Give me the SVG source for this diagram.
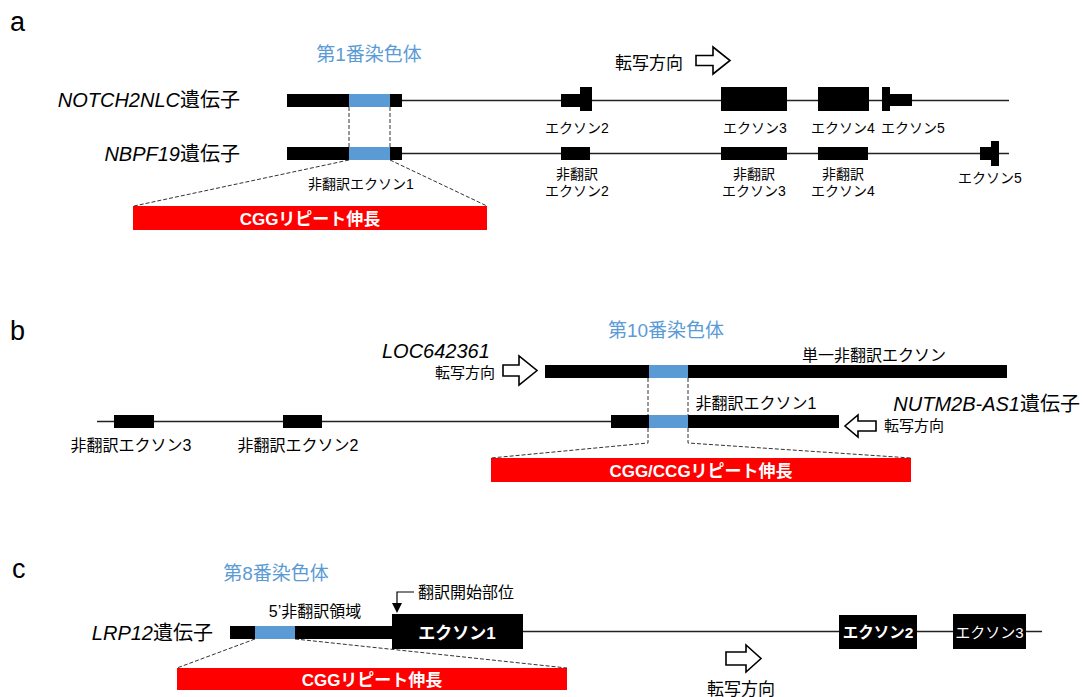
<svg xmlns="http://www.w3.org/2000/svg" width="1083" height="697" viewBox="0 0 1083 697">
<style>
text{font-family:"Liberation Sans","Noto Sans CJK JP",sans-serif;fill:#000}
.panel{font-size:27px}
.chr{fill:#5b9bd5;font-size:19px}
.gene{font-size:20px}
.it{font-style:italic}
.lbl{font-size:14px}
.lblb{font-size:16px}
.red{fill:#ff0000}
.redt{fill:#fff;font-weight:bold;font-size:17px}
.exon{fill:#000}
.blue{fill:#5b9bd5}
.line{stroke:#222;stroke-width:1.3;fill:none}
.dash{stroke:#333;stroke-width:1;stroke-dasharray:4 2;fill:none}
.arr{fill:#fff;stroke:#000;stroke-width:1.6;stroke-linejoin:miter}
.wt{fill:#fff;font-size:17px}
</style>

<!-- Panel a -->
<text class="panel" x="10" y="31">a</text>
<text class="chr" x="369" y="61" text-anchor="middle">第1番染色体</text>
<g id="a-direction">
<text x="649" y="69" text-anchor="middle" style="font-size:17px">転写方向</text>
<path class="arr" d="M696,55.5 H713 V47 L730,60.5 L713,74 V65.5 H696 Z"/>
</g>
<g id="a-notch2nlc">
<text class="gene" x="240" y="107" text-anchor="end"><tspan class="it">NOTCH2NLC</tspan>遺伝子</text>
<line class="line" x1="402" y1="100.5" x2="1009" y2="100.5"/>
<rect class="exon" x="287" y="94" width="115" height="13"/>
<rect class="blue" x="349" y="94" width="41" height="13"/>
<rect class="exon" x="561" y="94" width="20" height="13"/>
<rect class="exon" x="580" y="87" width="12" height="24"/>
<rect class="exon" x="721" y="87" width="66" height="24"/>
<rect class="exon" x="818" y="87" width="51" height="24"/>
<rect class="exon" x="882" y="87" width="8" height="24"/>
<rect class="exon" x="889" y="94" width="23" height="12"/>
<text class="lbl" x="577" y="133" text-anchor="middle">エクソン2</text>
<text class="lbl" x="755" y="133" text-anchor="middle">エクソン3</text>
<text class="lbl" x="843" y="133" text-anchor="middle">エクソン4</text>
<text class="lbl" x="913" y="133" text-anchor="middle">エクソン5</text>
</g>
<g id="a-nbpf19">
<text class="gene" x="240" y="161" text-anchor="end"><tspan class="it">NBPF19</tspan>遺伝子</text>
<line class="line" x1="402" y1="153.5" x2="1009" y2="153.5"/>
<rect class="exon" x="287" y="147" width="115" height="13"/>
<rect class="blue" x="349" y="147" width="41" height="13"/>
<rect class="exon" x="561" y="147" width="29" height="13"/>
<rect class="exon" x="721" y="147" width="66" height="13"/>
<rect class="exon" x="818" y="147" width="50" height="13"/>
<rect class="exon" x="980" y="147" width="12" height="13"/>
<rect class="exon" x="991" y="141" width="8" height="25"/>
<text class="lbl" x="361" y="189" text-anchor="middle">非翻訳エクソン1</text>
<text class="lbl" x="577" y="179" text-anchor="middle">非翻訳</text>
<text class="lbl" x="577" y="196" text-anchor="middle">エクソン2</text>
<text class="lbl" x="754" y="179" text-anchor="middle">非翻訳</text>
<text class="lbl" x="754" y="196" text-anchor="middle">エクソン3</text>
<text class="lbl" x="843" y="179" text-anchor="middle">非翻訳</text>
<text class="lbl" x="843" y="196" text-anchor="middle">エクソン4</text>
<text class="lbl" x="990" y="183" text-anchor="middle">エクソン5</text>
</g>
<g id="a-repeat">
<rect class="red" x="133" y="206" width="354" height="24"/>
<text class="redt" x="310" y="225" text-anchor="middle">CGGリピート伸長</text>
</g>

<!-- Panel b -->
<text class="panel" x="10" y="340">b</text>
<text class="chr" x="666" y="337" text-anchor="middle">第10番染色体</text>
<g id="b-loc642361">
<text class="gene it" x="382" y="358">LOC642361</text>
<text x="465" y="378" text-anchor="middle" style="font-size:15px">転写方向</text>
<path class="arr" d="M503,365 H519 V356 L537,370.5 L519,385 V376 H503 Z"/>
<rect class="exon" x="545" y="365" width="462" height="13"/>
<rect class="blue" x="649" y="365" width="39" height="13"/>
<text class="lblb" x="874" y="361" text-anchor="middle">単一非翻訳エクソン</text>
</g>
<g id="b-nutm2b">
<line class="line" x1="97" y1="421.5" x2="611" y2="421.5"/>
<rect class="exon" x="114" y="415" width="40" height="13"/>
<rect class="exon" x="283" y="415" width="39" height="13"/>
<rect class="exon" x="611" y="415" width="228" height="13"/>
<rect class="blue" x="649" y="415" width="39" height="13"/>
<text class="lblb" x="131" y="451" text-anchor="middle">非翻訳エクソン3</text>
<text class="lblb" x="298" y="451" text-anchor="middle">非翻訳エクソン2</text>
<text class="lblb" x="756" y="409" text-anchor="middle">非翻訳エクソン1</text>
<text class="gene" x="1080" y="411" text-anchor="end"><tspan class="it">NUTM2B-AS1</tspan>遺伝子</text>
<path class="arr" d="M876,421 H858 V415 L845,426 L858,437 V431 H876 Z"/>
<text x="914" y="431" text-anchor="middle" style="font-size:15px">転写方向</text>
</g>
<g id="b-repeat">
<rect class="red" x="491" y="458" width="420" height="24"/>
<text class="redt" x="701" y="477" text-anchor="middle">CGG/CCGリピート伸長</text>
</g>

<!-- Panel c -->
<text class="panel" x="12" y="578">c</text>
<text class="chr" x="276" y="580" text-anchor="middle">第8番染色体</text>
<g id="c-lrp12">
<text class="gene" x="213" y="640" text-anchor="end"><tspan class="it">LRP12</tspan>遺伝子</text>
<line class="line" x1="523" y1="631.5" x2="1042" y2="631.5"/>
<rect class="exon" x="230" y="626" width="162" height="13"/>
<rect class="blue" x="255" y="626" width="40" height="13"/>
<text class="lblb" x="315" y="617" text-anchor="middle">5’非翻訳領域</text>
<rect class="exon" x="392" y="614" width="131" height="35"/>
<text class="wt" x="457" y="639" text-anchor="middle" font-weight="bold">エクソン1</text>
<rect class="exon" x="839" y="615" width="78" height="34"/>
<text class="wt" x="878" y="638" text-anchor="middle" font-weight="bold" style="font-size:15.5px">エクソン2</text>
<rect class="exon" x="953" y="614" width="73" height="35"/>
<text class="wt" x="989.5" y="638" text-anchor="middle" style="font-size:15px">エクソン3</text>
</g>
<g id="c-start">
<text class="lblb" x="418" y="598">翻訳開始部位</text>
<path d="M414,592 H397 V604" stroke="#000" stroke-width="1.2" fill="none"/>
<path d="M392,603 H402 L397,613 Z" fill="#000"/>
</g>
<g id="c-direction">
<path class="arr" d="M726,652 H746 V645 L761,658.5 L746,672 V665 H726 Z"/>
<text x="741" y="695" text-anchor="middle" style="font-size:17px">転写方向</text>
</g>
<g id="c-repeat">
<rect class="red" x="177" y="668" width="390" height="22"/>
<text class="redt" x="372" y="686" text-anchor="middle">CGGリピート伸長</text>
</g>

<g id="connectors">
<line class="dash" x1="349" y1="107" x2="349" y2="147"/>
<line class="dash" x1="390" y1="107" x2="390" y2="147"/>
<line class="dash" x1="349" y1="160" x2="134" y2="206"/>
<line class="dash" x1="390" y1="160" x2="487" y2="206"/>
<line class="dash" x1="648" y1="378" x2="648" y2="415"/>
<line class="dash" x1="688" y1="378" x2="688" y2="415"/>
<polyline class="dash" points="648,428 648,443 491,458"/>
<polyline class="dash" points="688,428 688,443 911,458"/>
<line class="dash" x1="255" y1="639" x2="177" y2="668"/>
<line class="dash" x1="295" y1="639" x2="567" y2="668"/>
</g>
</svg>
